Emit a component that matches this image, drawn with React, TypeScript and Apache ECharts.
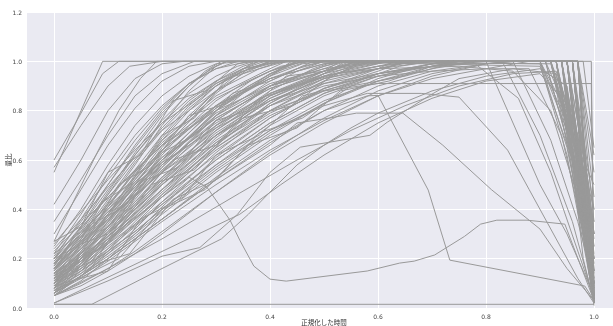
import React, { useEffect, useRef } from "react";
import * as echarts from "echarts";

// axis names
const xName = "正規化した時間";
const yName = "量比";

// Each line: flat list of x, y pairs (normalized time, value)
const earlyLines: number[][] = [
  [0,0.55, 0.09,1.0, 0.995,1.0, 1.0,0.02],
  [0,0.60, 0.04,0.75, 0.09,0.95, 0.12,1.0, 0.96,1.0, 0.985,0.55, 1.0,0.15],
  [0,0.57, 0.05,0.74, 0.1,0.9, 0.14,0.98, 0.2,1.0, 0.97,1.0, 1.0,0.62],
  [0,0.42, 0.05,0.6, 0.1,0.8, 0.15,0.93, 0.2,0.99, 0.24,1.0, 0.94,1.0, 0.98,0.45, 1.0,0.1],
  [0,0.35, 0.05,0.52, 0.1,0.7, 0.15,0.86, 0.2,0.95, 0.26,1.0, 0.92,0.99, 0.97,0.6, 1.0,0.2],
  [0,0.3, 0.05,0.48, 0.1,0.66, 0.15,0.81, 0.2,0.92, 0.25,0.98, 0.3,1.0, 0.95,1.0, 0.99,0.3, 1.0,0.05],
  [0,0.27, 0.04,0.45, 0.08,0.63, 0.12,0.8, 0.16,0.93, 0.19,1.0, 0.9,1.0, 0.96,0.75, 1.0,0.4],
  [0,0.25, 0.05,0.4, 0.1,0.58, 0.15,0.74, 0.2,0.86, 0.25,0.94, 0.3,0.99, 0.35,1.0, 0.96,1.0, 1.0,0.08],
];

const mainLines: number[][] = [
  [0,0.22, 0.05,0.38, 0.1,0.55, 0.15,0.7, 0.2,0.82, 0.25,0.91, 0.3,0.97, 0.36,1.0, 0.93,1.0, 0.97,0.5, 1.0,0.03],
  [0,0.2, 0.05,0.33, 0.1,0.48, 0.15,0.62, 0.2,0.75, 0.25,0.85, 0.3,0.92, 0.35,0.97, 0.42,1.0, 0.95,1.0, 0.99,0.2, 1.0,0.05],
  [0,0.19, 0.05,0.3, 0.1,0.42, 0.15,0.55, 0.2,0.67, 0.3,0.85, 0.4,0.96, 0.46,1.0, 0.9,1.0, 0.95,0.65, 1.0,0.1],
  [0,0.18, 0.05,0.28, 0.1,0.4, 0.15,0.52, 0.2,0.64, 0.3,0.82, 0.4,0.93, 0.5,0.99, 0.55,1.0, 0.97,1.0, 1.0,0.15],
  [0,0.17, 0.05,0.31, 0.1,0.47, 0.15,0.63, 0.2,0.78, 0.25,0.9, 0.29,0.97, 0.32,1.0, 0.94,1.0, 0.98,0.4, 1.0,0.02],
  [0,0.16, 0.05,0.27, 0.1,0.39, 0.15,0.5, 0.2,0.6, 0.3,0.77, 0.4,0.89, 0.5,0.96, 0.6,1.0, 0.92,1.0, 0.97,0.7, 1.0,0.3],
  [0,0.15, 0.05,0.25, 0.1,0.36, 0.15,0.47, 0.2,0.58, 0.3,0.76, 0.4,0.9, 0.5,0.98, 0.54,1.0, 0.96,1.0, 1.0,0.03],
  [0,0.14, 0.05,0.24, 0.1,0.35, 0.15,0.46, 0.2,0.57, 0.25,0.67, 0.3,0.75, 0.4,0.87, 0.5,0.94, 0.6,0.98, 0.68,1.0, 0.95,1.0, 0.99,0.25, 1.0,0.04],
  [0,0.13, 0.05,0.26, 0.1,0.41, 0.15,0.56, 0.2,0.7, 0.25,0.82, 0.3,0.91, 0.35,0.97, 0.39,1.0, 0.91,1.0, 0.96,0.6, 1.0,0.12],
  [0,0.12, 0.05,0.22, 0.1,0.33, 0.15,0.45, 0.2,0.56, 0.3,0.74, 0.4,0.87, 0.5,0.95, 0.58,0.99, 0.65,1.0, 0.97,1.0, 1.0,0.35],
  [0,0.12, 0.05,0.2, 0.1,0.3, 0.15,0.4, 0.2,0.5, 0.3,0.68, 0.4,0.82, 0.5,0.92, 0.6,0.97, 0.7,1.0, 0.96,1.0, 1.0,0.05],
  [0,0.11, 0.05,0.21, 0.1,0.34, 0.15,0.48, 0.2,0.62, 0.25,0.74, 0.3,0.84, 0.35,0.91, 0.4,0.96, 0.45,1.0, 0.93,1.0, 0.98,0.35, 1.0,0.08],
  [0,0.1, 0.05,0.19, 0.1,0.3, 0.15,0.41, 0.2,0.53, 0.3,0.73, 0.4,0.88, 0.48,0.97, 0.52,1.0, 0.94,1.0, 0.99,0.3, 1.0,0.02],
  [0,0.1, 0.05,0.17, 0.1,0.26, 0.15,0.36, 0.2,0.46, 0.3,0.64, 0.4,0.78, 0.5,0.88, 0.6,0.95, 0.7,0.99, 0.76,1.0, 0.95,1.0, 1.0,0.18],
  [0,0.09, 0.05,0.18, 0.1,0.29, 0.15,0.42, 0.2,0.55, 0.25,0.67, 0.3,0.78, 0.35,0.87, 0.4,0.93, 0.45,0.97, 0.5,1.0, 0.92,1.0, 0.97,0.55, 1.0,0.07],
  [0,0.09, 0.05,0.16, 0.1,0.24, 0.15,0.33, 0.2,0.42, 0.3,0.6, 0.4,0.75, 0.5,0.87, 0.6,0.94, 0.7,0.98, 0.8,1.0, 0.96,1.0, 1.0,0.1],
  [0,0.08, 0.05,0.17, 0.1,0.28, 0.15,0.4, 0.2,0.52, 0.3,0.74, 0.4,0.9, 0.45,0.96, 0.5,1.0, 0.95,1.0, 0.99,0.5, 1.0,0.3],
  [0,0.08, 0.05,0.15, 0.1,0.23, 0.15,0.31, 0.2,0.4, 0.3,0.57, 0.4,0.72, 0.5,0.84, 0.6,0.92, 0.7,0.97, 0.78,1.0, 0.93,1.0, 0.98,0.4, 1.0,0.02],
  [0,0.07, 0.05,0.14, 0.1,0.24, 0.15,0.35, 0.2,0.46, 0.3,0.66, 0.4,0.82, 0.5,0.93, 0.56,0.98, 0.62,1.0, 0.94,1.0, 0.98,0.2, 1.0,0.02],
  [0,0.07, 0.05,0.13, 0.1,0.2, 0.15,0.28, 0.2,0.36, 0.3,0.52, 0.4,0.67, 0.5,0.8, 0.6,0.9, 0.7,0.96, 0.8,0.99, 0.86,1.0, 0.95,1.0, 1.0,0.05],
  [0,0.06, 0.05,0.13, 0.1,0.22, 0.15,0.32, 0.2,0.43, 0.3,0.63, 0.4,0.8, 0.5,0.92, 0.57,1.0, 0.97,1.0, 1.0,0.45],
  [0,0.06, 0.05,0.12, 0.1,0.19, 0.15,0.27, 0.2,0.35, 0.3,0.5, 0.4,0.64, 0.5,0.76, 0.6,0.86, 0.7,0.93, 0.8,0.97, 0.88,1.0, 0.96,1.0, 1.0,0.03],
  [0,0.05, 0.05,0.11, 0.1,0.2, 0.15,0.3, 0.2,0.41, 0.3,0.61, 0.4,0.77, 0.5,0.89, 0.6,0.96, 0.65,1.0, 0.93,1.0, 0.97,0.45, 1.0,0.06],
  [0,0.05, 0.05,0.1, 0.1,0.16, 0.15,0.23, 0.2,0.31, 0.3,0.47, 0.4,0.62, 0.5,0.75, 0.6,0.86, 0.7,0.94, 0.8,0.99, 0.84,1.0, 0.97,1.0, 1.0,0.2],
  [0,0.24, 0.05,0.36, 0.1,0.49, 0.15,0.61, 0.2,0.72, 0.3,0.88, 0.38,0.97, 0.43,1.0, 0.92,1.0, 0.96,0.55, 1.0,0.04],
  [0,0.23, 0.05,0.34, 0.1,0.45, 0.15,0.56, 0.2,0.66, 0.3,0.8, 0.4,0.9, 0.5,0.96, 0.58,1.0, 0.9,1.0, 0.95,0.72, 1.0,0.25],
  [0,0.21, 0.05,0.35, 0.1,0.5, 0.15,0.65, 0.2,0.79, 0.25,0.9, 0.28,0.96, 0.31,1.0, 0.97,1.0, 1.0,0.55],
  [0,0.2, 0.05,0.3, 0.1,0.4, 0.15,0.5, 0.2,0.59, 0.3,0.73, 0.4,0.84, 0.5,0.91, 0.6,0.95, 0.7,0.98, 0.75,1.0, 0.94,1.0, 0.99,0.4, 1.0,0.02],
  [0,0.18, 0.05,0.32, 0.1,0.46, 0.15,0.6, 0.2,0.73, 0.25,0.84, 0.3,0.92, 0.35,0.98, 0.38,1.0, 0.95,1.0, 0.99,0.15, 1.0,0.02],
  [0,0.17, 0.05,0.26, 0.1,0.37, 0.15,0.49, 0.2,0.61, 0.3,0.81, 0.4,0.94, 0.44,1.0, 0.91,1.0, 0.95,0.8, 1.0,0.35],
  [0,0.16, 0.05,0.29, 0.1,0.44, 0.15,0.59, 0.2,0.72, 0.25,0.83, 0.3,0.91, 0.35,0.96, 0.4,0.99, 0.44,1.0, 0.96,1.0, 1.0,0.1],
  [0,0.15, 0.05,0.28, 0.1,0.43, 0.15,0.58, 0.2,0.74, 0.25,0.88, 0.3,0.98, 0.32,1.0, 0.93,1.0, 0.98,0.3, 1.0,0.04],
  [0,0.14, 0.05,0.22, 0.1,0.31, 0.15,0.41, 0.2,0.51, 0.3,0.7, 0.4,0.86, 0.5,0.96, 0.53,1.0, 0.95,1.0, 0.99,0.35, 1.0,0.06],
  [0,0.13, 0.05,0.2, 0.1,0.28, 0.15,0.37, 0.2,0.47, 0.3,0.66, 0.4,0.83, 0.5,0.95, 0.54,1.0, 0.96,1.0, 1.0,0.22],
  [0,0.13, 0.05,0.23, 0.1,0.36, 0.15,0.5, 0.2,0.64, 0.3,0.87, 0.36,0.97, 0.4,1.0, 0.9,0.99, 0.95,0.62, 1.0,0.03],
  [0,0.11, 0.05,0.18, 0.1,0.27, 0.15,0.37, 0.2,0.48, 0.3,0.69, 0.4,0.85, 0.5,0.95, 0.55,0.99, 0.6,1.0, 0.98,1.0, 1.0,0.65],
  [0,0.1, 0.05,0.2, 0.1,0.32, 0.15,0.45, 0.2,0.58, 0.3,0.8, 0.4,0.94, 0.45,1.0, 0.94,1.0, 0.98,0.3, 1.0,0.01],
  [0,0.09, 0.05,0.15, 0.1,0.22, 0.15,0.3, 0.2,0.39, 0.3,0.56, 0.4,0.71, 0.5,0.83, 0.6,0.92, 0.7,0.98, 0.74,1.0, 0.95,1.0, 0.99,0.2, 1.0,0.05],
  [0,0.08, 0.05,0.2, 0.1,0.35, 0.15,0.5, 0.2,0.65, 0.25,0.78, 0.3,0.88, 0.35,0.95, 0.4,1.0, 0.92,1.0, 0.97,0.5, 1.0,0.15],
  [0,0.07, 0.05,0.16, 0.1,0.27, 0.15,0.39, 0.2,0.51, 0.3,0.72, 0.4,0.87, 0.5,0.96, 0.55,1.0, 0.97,1.0, 1.0,0.08],
  [0,0.06, 0.05,0.15, 0.1,0.26, 0.15,0.38, 0.2,0.5, 0.3,0.7, 0.4,0.84, 0.5,0.93, 0.6,0.98, 0.64,1.0, 0.96,1.0, 1.0,0.3],
  [0,0.05, 0.05,0.09, 0.1,0.15, 0.15,0.22, 0.2,0.3, 0.3,0.47, 0.4,0.63, 0.5,0.77, 0.6,0.88, 0.7,0.95, 0.8,0.99, 0.85,1.0, 0.95,1.0, 0.99,0.3, 1.0,0.02],
  [0,0.19, 0.05,0.29, 0.1,0.39, 0.15,0.49, 0.2,0.58, 0.3,0.74, 0.4,0.86, 0.5,0.94, 0.6,0.98, 0.66,1.0, 0.93,1.0, 0.98,0.5, 1.0,0.1],
  [0,0.26, 0.05,0.39, 0.1,0.52, 0.15,0.64, 0.2,0.75, 0.3,0.9, 0.35,0.96, 0.4,1.0, 0.94,1.0, 0.99,0.45, 1.0,0.2],
  [0,0.14, 0.05,0.27, 0.1,0.41, 0.15,0.55, 0.2,0.68, 0.3,0.86, 0.4,0.97, 0.43,1.0, 0.97,1.0, 1.0,0.02],
  [0,0.12, 0.05,0.24, 0.1,0.38, 0.15,0.53, 0.2,0.68, 0.25,0.8, 0.3,0.9, 0.35,0.97, 0.38,1.0, 0.95,1.0, 0.99,0.25, 1.0,0.03],
];

const moreLines: number[][] = [
  [0,0.07, 0.05,0.18, 0.1,0.31, 0.15,0.44, 0.2,0.57, 0.3,0.78, 0.4,0.92, 0.46,0.98, 0.5,1.0, 0.94,1.0, 0.98,0.4, 1.0,0.05],
  [0,0.08, 0.05,0.14, 0.1,0.21, 0.15,0.29, 0.2,0.38, 0.3,0.55, 0.4,0.7, 0.5,0.83, 0.6,0.93, 0.68,0.98, 0.72,1.0, 0.96,1.0, 1.0,0.12],
  [0,0.09, 0.05,0.2, 0.1,0.33, 0.15,0.47, 0.2,0.6, 0.3,0.82, 0.37,0.93, 0.42,0.98, 0.47,1.0, 0.93,1.0, 0.97,0.6, 1.0,0.2],
  [0,0.1, 0.05,0.16, 0.1,0.23, 0.15,0.31, 0.2,0.4, 0.3,0.58, 0.4,0.74, 0.5,0.86, 0.6,0.94, 0.7,0.99, 0.73,1.0, 0.92,1.0, 0.97,0.55, 1.0,0.06],
  [0,0.11, 0.05,0.23, 0.1,0.37, 0.15,0.52, 0.2,0.66, 0.3,0.88, 0.34,0.95, 0.37,1.0, 0.96,1.0, 1.0,0.4],
  [0,0.12, 0.05,0.19, 0.1,0.27, 0.15,0.36, 0.2,0.45, 0.3,0.62, 0.4,0.77, 0.5,0.89, 0.6,0.97, 0.63,1.0, 0.95,1.0, 0.99,0.35, 1.0,0.02],
  [0,0.13, 0.05,0.25, 0.1,0.38, 0.15,0.51, 0.2,0.63, 0.3,0.82, 0.4,0.95, 0.45,1.0, 0.91,1.0, 0.96,0.6, 1.0,0.15],
  [0,0.14, 0.05,0.21, 0.1,0.29, 0.15,0.38, 0.2,0.48, 0.3,0.67, 0.4,0.83, 0.5,0.94, 0.55,0.98, 0.59,1.0, 0.97,1.0, 1.0,0.04],
  [0,0.15, 0.05,0.3, 0.1,0.46, 0.15,0.62, 0.2,0.76, 0.25,0.87, 0.3,0.94, 0.34,0.98, 0.37,1.0, 0.93,1.0, 0.97,0.48, 1.0,0.07],
  [0,0.16, 0.05,0.24, 0.1,0.33, 0.15,0.43, 0.2,0.53, 0.3,0.71, 0.4,0.85, 0.5,0.94, 0.6,0.99, 0.62,1.0, 0.94,1.0, 0.98,0.45, 1.0,0.1],
  [0,0.17, 0.05,0.33, 0.1,0.5, 0.15,0.66, 0.2,0.8, 0.25,0.91, 0.3,0.98, 0.32,1.0, 0.95,1.0, 0.99,0.38, 1.0,0.06],
  [0,0.18, 0.05,0.27, 0.1,0.36, 0.15,0.46, 0.2,0.55, 0.3,0.72, 0.4,0.86, 0.5,0.95, 0.56,1.0, 0.92,1.0, 0.97,0.62, 1.0,0.14],
  [0,0.06, 0.05,0.17, 0.1,0.3, 0.15,0.43, 0.2,0.55, 0.3,0.76, 0.4,0.9, 0.5,0.98, 0.53,1.0, 0.95,1.0, 0.99,0.3, 1.0,0.03],
  [0,0.05, 0.05,0.13, 0.1,0.23, 0.15,0.34, 0.2,0.45, 0.3,0.65, 0.4,0.8, 0.5,0.91, 0.6,0.97, 0.67,1.0, 0.97,1.0, 1.0,0.07],
  [0,0.08, 0.05,0.22, 0.1,0.38, 0.15,0.54, 0.2,0.69, 0.25,0.81, 0.3,0.9, 0.36,0.97, 0.41,1.0, 0.94,1.0, 0.98,0.42, 1.0,0.09],
  [0,0.1, 0.05,0.22, 0.1,0.35, 0.15,0.48, 0.2,0.6, 0.3,0.79, 0.4,0.91, 0.5,0.97, 0.54,1.0, 0.9,1.0, 0.95,0.75, 1.0,0.5],
  [0,0.2, 0.05,0.36, 0.1,0.53, 0.15,0.68, 0.2,0.81, 0.25,0.91, 0.3,0.97, 0.34,1.0, 0.96,1.0, 1.0,0.28],
  [0,0.22, 0.05,0.31, 0.1,0.41, 0.15,0.51, 0.2,0.61, 0.3,0.77, 0.4,0.89, 0.5,0.96, 0.56,1.0, 0.95,1.0, 0.99,0.2, 1.0,0.04],
  [0,0.13, 0.05,0.19, 0.1,0.26, 0.15,0.34, 0.2,0.43, 0.3,0.6, 0.4,0.75, 0.5,0.87, 0.6,0.95, 0.7,0.99, 0.74,1.0, 0.97,1.0, 1.0,0.09],
  [0,0.11, 0.05,0.21, 0.1,0.33, 0.15,0.46, 0.2,0.59, 0.3,0.8, 0.35,0.88, 0.4,0.94, 0.46,0.99, 0.5,1.0, 0.93,1.0, 0.97,0.5, 1.0,0.03],
  [0,0.2, 0.1,0.45, 0.2,0.66, 0.3,0.82, 0.4,0.93, 0.5,0.99, 0.55,1.0, 0.8,1.0, 0.9,0.5, 0.95,0.3, 1.0,0.05],
  [0,0.15, 0.1,0.38, 0.2,0.6, 0.3,0.78, 0.4,0.9, 0.5,0.97, 0.6,1.0, 0.83,1.0, 0.9,0.7, 0.96,0.35, 1.0,0.03],
  [0,0.11, 0.1,0.29, 0.2,0.48, 0.3,0.65, 0.4,0.79, 0.5,0.89, 0.6,0.95, 0.7,0.98, 0.78,0.99, 0.86,0.85, 0.92,0.55, 1.0,0.04],
  [0,0.18, 0.1,0.42, 0.2,0.64, 0.3,0.81, 0.36,0.9, 0.42,0.97, 0.46,1.0, 0.85,1.0, 0.92,0.68, 0.97,0.35, 1.0,0.1],
];

const kinkedLines: number[][] = [
  [0,0.12, 0.08,0.2, 0.15,0.45, 0.22,0.6, 0.3,0.66, 0.38,0.85, 0.45,0.9, 0.55,0.97, 0.62,1.0, 0.94,1.0, 0.98,0.35, 1.0,0.05],
  [0,0.2, 0.06,0.27, 0.12,0.5, 0.18,0.58, 0.25,0.78, 0.32,0.83, 0.4,0.95, 0.47,1.0, 0.9,0.98, 0.96,0.6, 1.0,0.15],
  [0,0.09, 0.1,0.15, 0.16,0.36, 0.24,0.45, 0.3,0.62, 0.38,0.7, 0.46,0.86, 0.55,0.91, 0.64,0.98, 0.7,1.0, 0.95,1.0, 1.0,0.1],
  [0,0.16, 0.07,0.34, 0.13,0.41, 0.2,0.63, 0.26,0.7, 0.33,0.87, 0.4,0.92, 0.48,1.0, 0.96,1.0, 1.0,0.25],
  [0,0.05, 0.08,0.18, 0.14,0.22, 0.22,0.44, 0.3,0.52, 0.38,0.71, 0.46,0.77, 0.55,0.9, 0.65,0.94, 0.75,1.0, 0.94,1.0, 0.98,0.3, 1.0,0.02],
  [0,0.27, 0.05,0.33, 0.1,0.55, 0.16,0.62, 0.22,0.84, 0.28,0.88, 0.34,0.99, 0.37,1.0, 0.93,1.0, 0.97,0.4, 1.0,0.08],
  [0,0.14, 0.1,0.26, 0.18,0.5, 0.26,0.56, 0.35,0.77, 0.44,0.82, 0.52,0.95, 0.6,0.97, 0.66,1.0, 0.97,1.0, 1.0,0.03],
  [0,0.1, 0.05,0.26, 0.1,0.3, 0.17,0.52, 0.23,0.57, 0.3,0.76, 0.36,0.8, 0.43,0.94, 0.5,0.96, 0.56,1.0, 0.92,1.0, 0.96,0.65, 1.0,0.2],
  [0,0.07, 0.12,0.2, 0.2,0.4, 0.28,0.48, 0.36,0.66, 0.45,0.73, 0.53,0.88, 0.62,0.92, 0.7,0.98, 0.78,1.0, 0.95,1.0, 0.99,0.3, 1.0,0.05],
  [0,0.18, 0.04,0.24, 0.09,0.43, 0.14,0.5, 0.2,0.7, 0.26,0.77, 0.32,0.93, 0.38,0.97, 0.42,1.0, 0.95,1.0, 0.99,0.5, 1.0,0.3],
];

const plateauLines: number[][] = [
  [0,0.1, 0.1,0.3, 0.2,0.5, 0.3,0.67, 0.4,0.8, 0.5,0.88, 0.6,0.91, 0.9,0.91, 0.995,0.91, 1.0,0.05],
  [0,0.16, 0.1,0.36, 0.2,0.55, 0.3,0.7, 0.4,0.82, 0.5,0.9, 0.6,0.94, 0.7,0.96, 0.8,0.97, 0.88,0.97, 0.94,0.7, 1.0,0.12],
  [0,0.13, 0.1,0.32, 0.2,0.52, 0.3,0.7, 0.4,0.84, 0.5,0.93, 0.6,0.97, 0.75,0.98, 0.85,0.96, 0.92,0.8, 0.97,0.45, 1.0,0.06],
  [0,0.09, 0.1,0.25, 0.2,0.42, 0.3,0.58, 0.4,0.72, 0.5,0.82, 0.58,0.87, 0.68,0.87, 0.75,0.855, 0.84,0.64, 0.88,0.48, 0.93,0.28, 0.97,0.12, 1.0,0.02],
  [0,0.06, 0.1,0.2, 0.2,0.36, 0.3,0.52, 0.4,0.66, 0.45,0.75, 0.51,0.77, 0.56,0.79, 0.646,0.79, 0.72,0.66, 0.81,0.48, 0.9,0.32, 0.95,0.16, 1.0,0.03],
];

const outlierLines: number[][] = [
  [0,0.015, 1.0,0.015],
  [0,0.015, 0.07,0.015, 0.2,0.16, 0.31,0.28, 0.36,0.38, 0.4,0.47, 0.45,0.58, 0.5,0.66, 0.55,0.73, 0.6,0.79, 0.7,0.88, 0.8,0.94, 0.9,0.97, 0.95,0.9, 1.0,0.1],
  [0,0.02, 0.1,0.11, 0.2,0.21, 0.27,0.245, 0.34,0.38, 0.4,0.55, 0.456,0.652, 0.585,0.7, 0.617,0.753, 0.696,0.862, 0.75,0.93, 0.85,0.97, 0.93,0.95, 0.97,0.6, 1.0,0.05],
  [0,0.02, 0.344,0.38, 0.42,0.5, 0.5,0.62, 0.6,0.75, 0.7,0.85, 0.8,0.92, 0.9,0.95, 0.96,0.8, 1.0,0.04],
  [0,0.05, 0.1,0.16, 0.2,0.28, 0.344,0.466, 0.45,0.6, 0.55,0.72, 0.65,0.82, 0.75,0.9, 0.85,0.95, 0.93,0.96, 0.97,0.7, 1.0,0.05],
  // dip line
  [0,0.1, 0.1,0.28, 0.2,0.45, 0.25,0.53, 0.283,0.49, 0.326,0.356, 0.344,0.275, 0.37,0.17, 0.4,0.117, 0.43,0.109, 0.58,0.15, 0.64,0.182, 0.667,0.19, 0.705,0.215, 0.76,0.29, 0.79,0.34, 0.82,0.356, 0.876,0.356, 0.946,0.34, 1.0,0.03],
  // peak line
  [0,0.06, 0.1,0.2, 0.2,0.36, 0.3,0.53, 0.4,0.68, 0.5,0.8, 0.58,0.86, 0.6,0.862, 0.693,0.478, 0.733,0.194, 0.983,0.089, 1.0,0.03],
];

const allLines = [...earlyLines, ...mainLines, ...moreLines, ...kinkedLines, ...plateauLines, ...outlierLines];

const toPairs = (flat: number[]) => {
  const out: number[][] = [];
  for (let i = 0; i < flat.length; i += 2) out.push([flat[i], flat[i + 1]]);
  return out;
};

export default function App() {
  const ref = useRef<HTMLDivElement>(null);
  useEffect(() => {
    if (!ref.current) return;
    const chart = echarts.init(ref.current, undefined, { renderer: "svg" });
    const labelStyle = { color: "#444", fontSize: 6, fontFamily: "DejaVu Sans" };
    chart.setOption({
      animation: false,
      grid: [
        { left: 27, right: 0, top: 12, bottom: 18, show: true, backgroundColor: "#EAEAF2", borderWidth: 0, containLabel: false, outerBoundsMode: "none" },
        { left: 54, width: 540, top: 12, bottom: 18, show: false, containLabel: false, outerBoundsMode: "none" },
      ],
      xAxis: [
        { gridIndex: 0, type: "value", min: -0.05, max: 1.035, show: false },
        {
          gridIndex: 1, type: "value", min: 0, max: 1, interval: 0.2,
          axisLine: { show: false }, axisTick: { show: false },
          axisLabel: { ...labelStyle, margin: 5, formatter: (v: number) => v.toFixed(1), showMaxLabel: true },
          splitLine: { show: true, lineStyle: { color: "#ffffff", width: 1 } },
          name: xName, nameLocation: "middle", nameGap: 11, nameMoveOverlap: false,
          nameTextStyle: { color: "#333", fontSize: 6.5, fontFamily: "Noto Sans CJK JP" },
        },
      ],
      yAxis: [
        {
          gridIndex: 0, type: "value", min: 0, max: 1.2, interval: 0.2,
          axisLine: { show: false }, axisTick: { show: false },
          axisLabel: { ...labelStyle, margin: 5, formatter: (v: number) => v.toFixed(1) },
          splitLine: { show: true, lineStyle: { color: "#ffffff", width: 1 } },
          name: yName, nameLocation: "middle", nameGap: 16, nameMoveOverlap: false,
          nameTextStyle: { color: "#333", fontSize: 6.5, fontFamily: "Noto Sans CJK JP" },
        },
        { gridIndex: 1, type: "value", min: 0, max: 1.2, show: false },
      ],
      series: allLines.map((flat) => ({
        type: "line",
        xAxisIndex: 1,
        yAxisIndex: 1,
        data: toPairs(flat),
        symbol: "none",
        clip: false,
        lineStyle: { color: "#999999", width: 1 },
        silent: true,
      })),
    });
    return () => chart.dispose();
  }, []);
  return (
    <div
      ref={ref}
      style={{ position: "fixed", left: 0, top: 0, width: 613, height: 326 }}
    />
  );
}
